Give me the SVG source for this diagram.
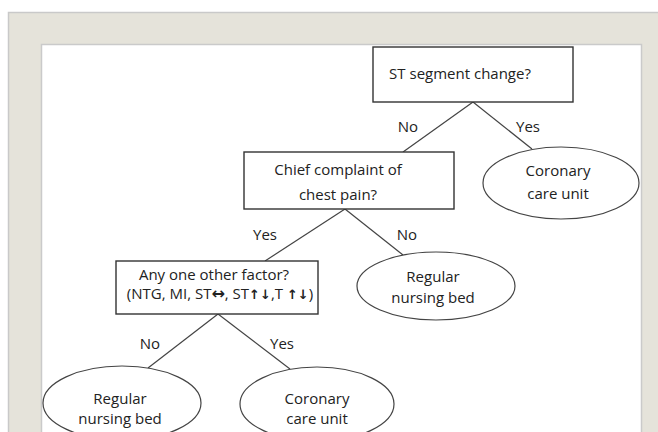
<svg xmlns="http://www.w3.org/2000/svg" width="658" height="432" viewBox="0 0 658 432">
<style>
.t{font-family:"Open Sans","DejaVu Sans",sans-serif;font-size:15px;fill:#222;text-anchor:middle}
.box{fill:#fff;stroke:#333;stroke-width:1.4}
.ell{fill:#fff;stroke:#444;stroke-width:1.2}
.ln{stroke:#444;stroke-width:1.2;fill:none}
.ar{font-family:"DejaVu Sans",sans-serif;font-weight:bold;font-size:13px}
.lr{font-family:"DejaVu Sans",sans-serif;font-weight:bold;font-size:16px}
</style>
<rect x="8.5" y="12.5" width="660" height="430" fill="#e5e3da" stroke="#c9c9c9" stroke-width="1.5"/>
<rect x="41.5" y="44.5" width="600" height="400" fill="#fff" stroke="#cacaca" stroke-width="1.5"/>
<g id="connectors">
<line class="ln" x1="473" y1="102" x2="403" y2="152"/>
<line class="ln" x1="473" y1="102" x2="532" y2="149"/>
<line class="ln" x1="345" y1="209" x2="265" y2="261"/>
<line class="ln" x1="345" y1="209" x2="403" y2="255"/>
<line class="ln" x1="218" y1="314" x2="148" y2="368"/>
<line class="ln" x1="218" y1="314" x2="290" y2="369"/>
<text class="t" x="408" y="132">No</text>
<text class="t" x="528" y="132">Yes</text>
<text class="t" x="265" y="240">Yes</text>
<text class="t" x="407" y="240">No</text>
<text class="t" x="150" y="349">No</text>
<text class="t" x="282" y="349">Yes</text>
</g>
<g id="st">
<rect class="box" x="373" y="47" width="200" height="55"/>
<text class="t" x="460" y="79">ST segment change?</text>
</g>
<g id="chief">
<rect class="box" x="244" y="152" width="210" height="57"/>
<text class="t" x="338" y="175">Chief complaint of</text>
<text class="t" x="338" y="200">chest pain?</text>
</g>
<g id="ccu1">
<ellipse class="ell" cx="561" cy="183" rx="78" ry="36"/>
<text class="t" x="558" y="176">Coronary</text>
<text class="t" x="558" y="199">care unit</text>
</g>
<g id="rnb1">
<ellipse class="ell" cx="436" cy="286" rx="79" ry="34"/>
<text class="t" x="433" y="282">Regular</text>
<text class="t" x="433" y="303">nursing bed</text>
</g>
<g id="other">
<rect class="box" x="116" y="261" width="202" height="53"/>
<text class="t" x="214" y="280">Any one other factor?</text>
<text class="t" x="220" y="299">(NTG, MI, ST<tspan class="lr">↔</tspan>, ST<tspan class="ar">↑↓</tspan>,T <tspan class="ar">↑↓</tspan>)</text>
</g>
<g id="rnb2">
<ellipse class="ell" cx="122" cy="403" rx="79" ry="37"/>
<text class="t" x="120" y="404">Regular</text>
<text class="t" x="120" y="424">nursing bed</text>
</g>
<g id="ccu2">
<ellipse class="ell" cx="317" cy="404" rx="77" ry="37"/>
<text class="t" x="317" y="404">Coronary</text>
<text class="t" x="317" y="424">care unit</text>
</g>
</svg>
